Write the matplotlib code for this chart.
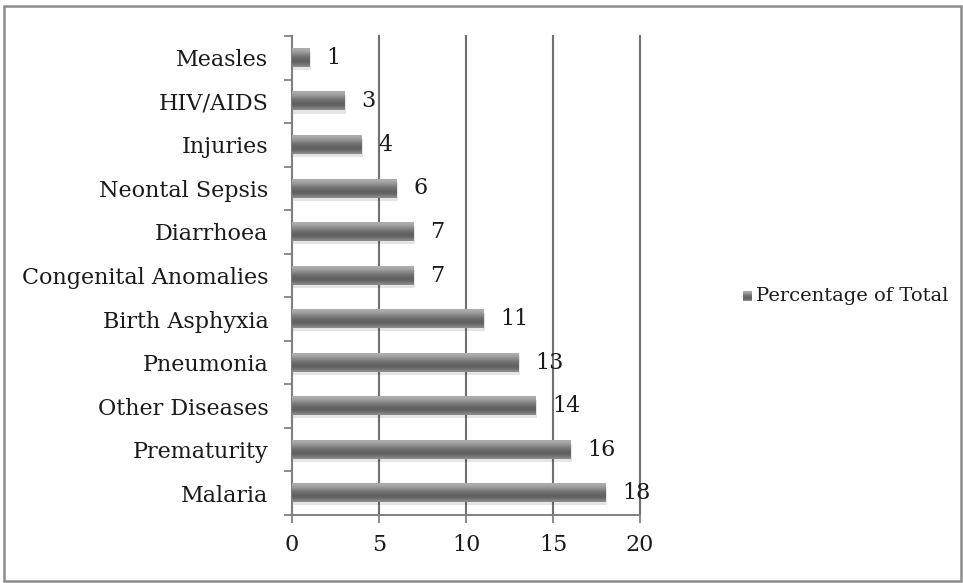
import matplotlib
matplotlib.use("Agg")
import matplotlib.pyplot as plt
import numpy as np
from matplotlib.patches import Rectangle

causes = ["Malaria", "Prematurity", "Other Diseases", "Pneumonia", "Birth Asphyxia",
          "Congenital Anomalies", "Diarrhoea", "Neontal Sepsis", "Injuries", "HIV/AIDS", "Measles"]
percent = [18, 16, 14, 13, 11, 7, 7, 6, 4, 3, 1]
x_ticks = [0, 5, 10, 15, 20]
series_name = "Percentage of Total"

plt.rcParams["font.family"] = ["DejaVu Serif"]
text_color = "#1a1a1a"
frame_color = "#8c8c8c"

# vertical shading of a bar: light top, dark lower middle, lighter bottom edge
shade = np.array([0.68, 0.66, 0.62, 0.57, 0.52, 0.47, 0.43, 0.40, 0.38, 0.38, 0.42, 0.48, 0.55])
grad = np.repeat(shade[:, None], 2, axis=1)

fig = plt.figure(figsize=(9.63, 5.83), dpi=100)
fig.patches.append(Rectangle((0.004, 0.004), 0.994, 0.985, transform=fig.transFigure,
                             fill=False, edgecolor=frame_color, linewidth=1.8))

ax = fig.add_axes([292 / 963, 68 / 583, 348 / 963, 479 / 583])
bar_h = 0.42
for i, v in enumerate(percent):
    # soft drop shadow
    ax.add_patch(Rectangle((0.08, i - bar_h / 2 - 0.07), v, bar_h, facecolor="#000000",
                           alpha=0.10, edgecolor="none", zorder=2))
    ax.imshow(grad, cmap="gray", vmin=0, vmax=1, aspect="auto", interpolation="bicubic",
              extent=(0, v, i - bar_h / 2, i + bar_h / 2), zorder=3)
    ax.annotate(str(v), xy=(v, i), xytext=(12, 0), textcoords="offset points",
                ha="left", va="center", fontsize=16, color=text_color, zorder=4)

ax.set_xlim(0, 20)
ax.set_ylim(-0.5, len(causes) - 0.5)
ax.set_xticks(x_ticks)
ax.set_xticklabels([str(t) for t in x_ticks])
ax.set_yticks(range(len(causes)))
ax.set_yticklabels(causes)
ax.set_yticks(np.arange(-0.5, len(causes)), minor=True)
ax.tick_params(axis="y", which="major", length=0, pad=17, labelsize=16, labelcolor=text_color)
ax.tick_params(axis="y", which="minor", length=6, width=1.2, color="#777777", direction="out")
ax.tick_params(axis="x", which="major", length=6, width=1.2, color="#777777", pad=8,
               labelsize=16, labelcolor=text_color)

ax.grid(axis="x", color="#707070", linewidth=1.5, zorder=0)
for line in ax.get_xgridlines():
    line.set_clip_on(False)
ax.set_axisbelow(True)
for side in ["top", "right"]:
    ax.spines[side].set_visible(False)
for side in ["left", "bottom"]:
    ax.spines[side].set_color("#808080")
    ax.spines[side].set_linewidth(1.4)

# legend key and label
key = fig.add_axes([743 / 963, (583 - 301) / 583, 9 / 963, 10 / 583])
key.imshow(grad, cmap="gray", vmin=0, vmax=1, aspect="auto", interpolation="bicubic")
key.axis("off")
fig.text(756 / 963, (583 - 296) / 583, series_name, ha="left", va="center",
         fontsize=14, color=text_color)

fig.savefig("out.png", dpi=100)
